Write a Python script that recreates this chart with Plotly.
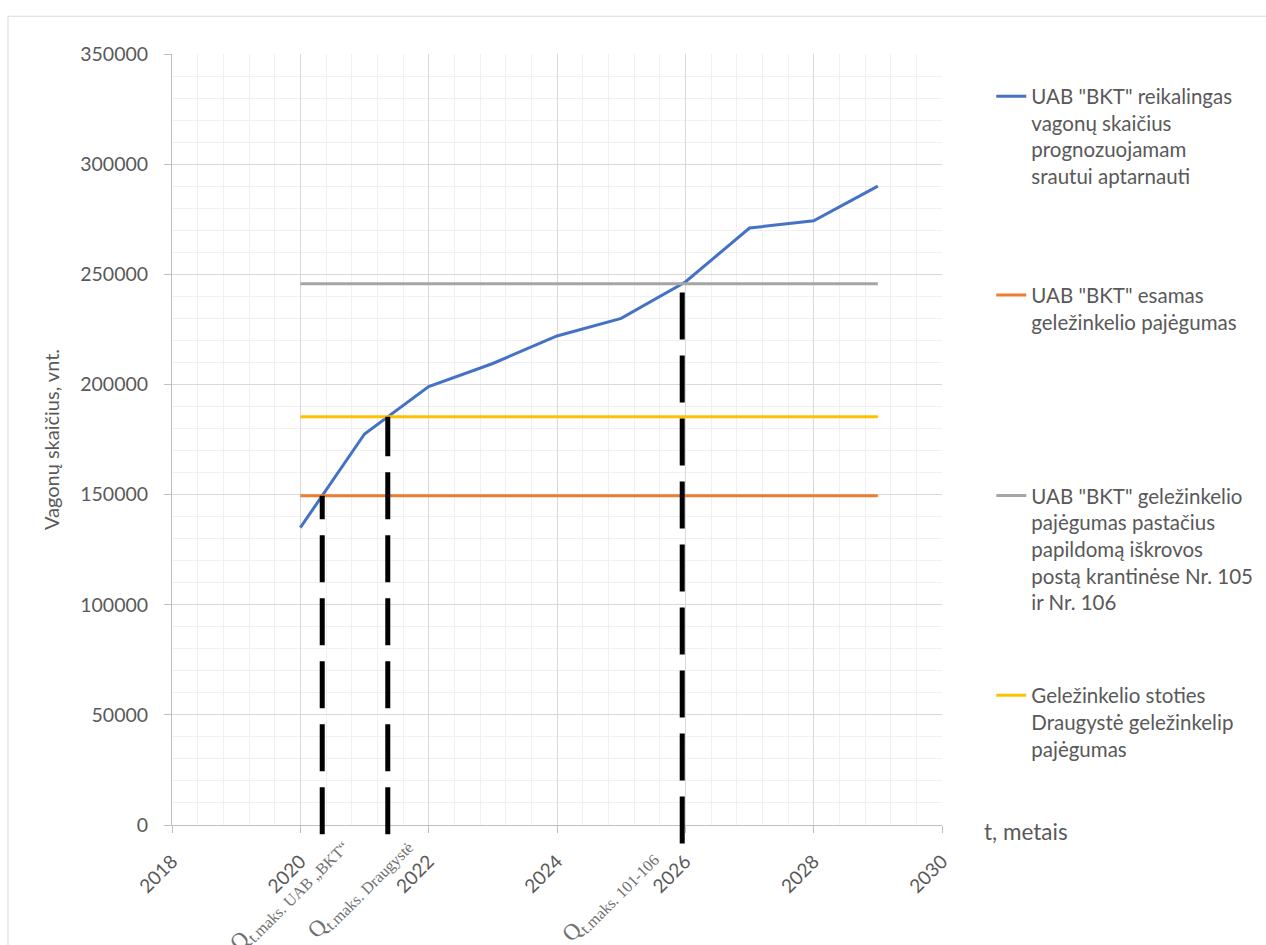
import plotly.graph_objects as go

# Forecast of required wagons per year
years = [2020, 2021, 2022, 2023, 2024, 2025, 2026, 2027, 2028, 2029]
required_wagons = [135000, 177500, 199000, 209500, 222000, 230000, 246500, 271000, 274300, 290000]

# Capacity levels (constant over the period)
cap_span = [2020, 2029]
cap_existing = 149500
cap_extended = 245700
cap_draugyste = 185300

names = [
    'UAB "BKT" reikalingas<br>vagonų skaičius<br>prognozuojamam<br>srautui aptarnauti',
    'UAB "BKT" esamas<br>geležinkelio pajėgumas',
    'UAB "BKT" geležinkelio<br>pajėgumas pastačius<br>papildomą iškrovos<br>postą krantinėse Nr. 105<br>ir Nr. 106',
    'Geležinkelio stoties<br>Draugystė geležinkelip<br>pajėgumas',
]
colors = ["#4472C4", "#ED7D31", "#A5A5A5", "#FFC000"]

x_ticks = [2018, 2020, 2022, 2024, 2026, 2028, 2030]
y_ticks = [0, 50000, 100000, 150000, 200000, 250000, 300000, 350000]
X_RANGE = [2018, 2030]
Y_RANGE = [0, 350000]

marker_labels = [
    "Q<sub>t.maks. UAB „BKT“</sub>",
    "Q<sub>t.maks. Draugystė</sub>",
    "Q<sub>t.maks. 101-106</sub>",
]
capacity_for_marker = [cap_existing, cap_draugyste, cap_extended]

TXT = "#595959"
FONT = "Lato"


def crossing_year(level):
    """Year where the forecast line first reaches the given level."""
    for i in range(len(years) - 1):
        a, b = required_wagons[i], required_wagons[i + 1]
        if a <= level <= b:
            return years[i] + (level - a) / (b - a) * (years[i + 1] - years[i])
    return None


fig = go.Figure()
fig.add_trace(go.Scatter(x=years, y=required_wagons, mode="lines", name=names[0],
                         line=dict(color=colors[0], width=3), legend="legend"))
fig.add_trace(go.Scatter(x=cap_span, y=[cap_existing] * 2, mode="lines", name=names[1],
                         line=dict(color=colors[1], width=3), legend="legend2"))
fig.add_trace(go.Scatter(x=cap_span, y=[cap_extended] * 2, mode="lines", name=names[2],
                         line=dict(color=colors[2], width=3), legend="legend3"))
fig.add_trace(go.Scatter(x=cap_span, y=[cap_draugyste] * 2, mode="lines", name=names[3],
                         line=dict(color=colors[3], width=3), legend="legend4"))

shapes = [
    # outer chart frame
    dict(type="rect", xref="paper", yref="paper", x0=-0.213, x1=1.6, y0=-0.3, y1=1.049,
         line=dict(color="#D9D9D9", width=1), layer="below"),
]
annotations = []
ext_below = [-0.012, -0.012, -0.024]
label_shift = [33, 32, -17]
label_yshift = [-3, -3, -15]
for lvl, lab, eb, xs, ys in zip(capacity_for_marker, marker_labels, ext_below, label_shift, label_yshift):
    xc = crossing_year(lvl)
    shapes.append(dict(type="line", xref="x", yref="paper", x0=xc, x1=xc,
                       y0=eb, y1=lvl / Y_RANGE[1],
                       line=dict(color="black", width=5, dash="47px,16px"), layer="above"))
    annotations.append(dict(x=xc, y=0, xref="x", yref="paper", text=lab, showarrow=False,
                            textangle=-45, xanchor="right", yanchor="top", xshift=xs, yshift=ys,
                            font=dict(family="Liberation Serif", size=23, color="#707070")))

annotations.append(dict(x=1.052, y=0, xref="paper", yref="paper", text="t, metais",
                        showarrow=False, xanchor="left", yanchor="middle", yshift=-6,
                        font=dict(family=FONT, size=22.5, color=TXT)))

legend_common = dict(xref="paper", yref="paper", xanchor="left", yanchor="top",
                     bgcolor="rgba(0,0,0,0)", borderwidth=0, valign="top",
                     font=dict(family=FONT, size=20.5, color=TXT), itemwidth=30)

LEG_X = 1.064
fig.update_layout(
    width=1266, height=945,
    margin=dict(l=172, r=324, t=54, b=120, autoexpand=False),
    paper_bgcolor="white", plot_bgcolor="white",
    font=dict(family=FONT, size=19, color=TXT),
    showlegend=True,
    legend=dict(x=LEG_X, y=0.971, **legend_common),
    legend2=dict(x=LEG_X, y=0.713, **legend_common),
    legend3=dict(x=LEG_X, y=0.453, **legend_common),
    legend4=dict(x=LEG_X, y=0.194, **legend_common),
    shapes=shapes,
    annotations=annotations,
    xaxis=dict(range=X_RANGE, tickvals=x_ticks, ticktext=[str(v) for v in x_ticks],
               tickangle=-45, showgrid=True, gridcolor="#D9D9D9", gridwidth=1,
               showline=True, linecolor="#BFBFBF", linewidth=1,
               ticks="outside", ticklen=7, tickcolor="#BFBFBF", ticklabelstandoff=10,
               minor=dict(dtick=0.4, tick0=2018, showgrid=True, gridcolor="#F0F0F0", ticks=""),
               zeroline=False, tickfont=dict(family=FONT, size=19, color=TXT)),
    yaxis=dict(range=Y_RANGE, tickvals=y_ticks, ticktext=[str(v) for v in y_ticks],
               showgrid=True, gridcolor="#D9D9D9", gridwidth=1,
               showline=True, linecolor="#BFBFBF", linewidth=1,
               ticks="outside", ticklen=7, tickcolor="#BFBFBF", ticklabelstandoff=12,
               minor=dict(dtick=10000, tick0=0, showgrid=True, gridcolor="#F0F0F0", ticks=""),
               zeroline=False, tickfont=dict(family=FONT, size=19.5, color=TXT),
               title=dict(text="Vagonų skaičius, vnt.", standoff=15,
                          font=dict(family=FONT, size=20, color=TXT))),
)

fig.write_html("out.html")
